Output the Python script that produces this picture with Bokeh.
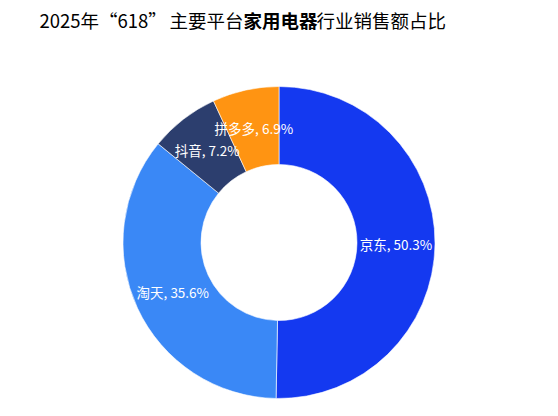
import math
from bokeh.plotting import figure
from bokeh.models import ColumnDataSource, Label, Range1d
from bokeh.core.properties import value
from bokeh.embed import file_html
from bokeh.resources import INLINE

platforms = ["京东", "淘天", "抖音", "拼多多"]
shares = [50.3, 35.6, 7.2, 6.9]
colors = ["#1439F0", "#3A88F6", "#2C3E6E", "#FF9412"]
title_parts = ["2025年“618”", "主要平台", "家用电器", "行业销售额占比"]

W, H = 542, 400
FONT = "Noto Sans CJK SC"

def px(x):
    return x

def py(y):
    return H - y

cx, cy = px(278.5), py(242)
r_out, r_in = 156, 78

total = sum(shares)
starts, ends, lx, ly, labels = [], [], [], [], []
cum = 0.0
for name, s in zip(platforms, shares):
    a0 = math.pi / 2 - 2 * math.pi * cum / total
    a1 = math.pi / 2 - 2 * math.pi * (cum + s) / total
    mid = (a0 + a1) / 2
    starts.append(a0)
    ends.append(a1)
    rm = (r_out + r_in) / 2
    lx.append(cx + rm * math.cos(mid))
    ly.append(cy + rm * math.sin(mid))
    labels.append(f"{name}, {s}%")
    cum += s

src = ColumnDataSource(dict(start=starts, end=ends, color=colors, lx=lx, ly=ly, label=labels))

p = figure(width=W, height=H, output_backend="svg", toolbar_location=None,
           x_range=Range1d(0, W), y_range=Range1d(0, H), min_border=0)
p.axis.visible = False
p.grid.visible = False
p.outline_line_color = None
p.background_fill_color = "white"
p.border_fill_color = "white"

p.annular_wedge(x=cx, y=cy, inner_radius=r_in, outer_radius=r_out,
                start_angle="start", end_angle="end", direction="clock",
                fill_color="color", line_color="white", line_width=0.6, source=src)

p.text(x="lx", y="ly", text="label", source=src, text_color="white",
       text_font=value(FONT), text_font_size="13.5px",
       text_align="center", text_baseline="middle")

tx = [39, 169, 243, 316]
styles = ["normal", "normal", "bold", "normal"]
for t, x0, st in zip(title_parts, tx, styles):
    p.add_layout(Label(x=px(x0), y=py(19), text=t, text_font=FONT,
                       text_font_size="18.5px", text_font_style=st,
                       text_color="#000000", text_baseline="middle",
                       text_align="left"))

open("out.html", "w").write(file_html(p, INLINE))
